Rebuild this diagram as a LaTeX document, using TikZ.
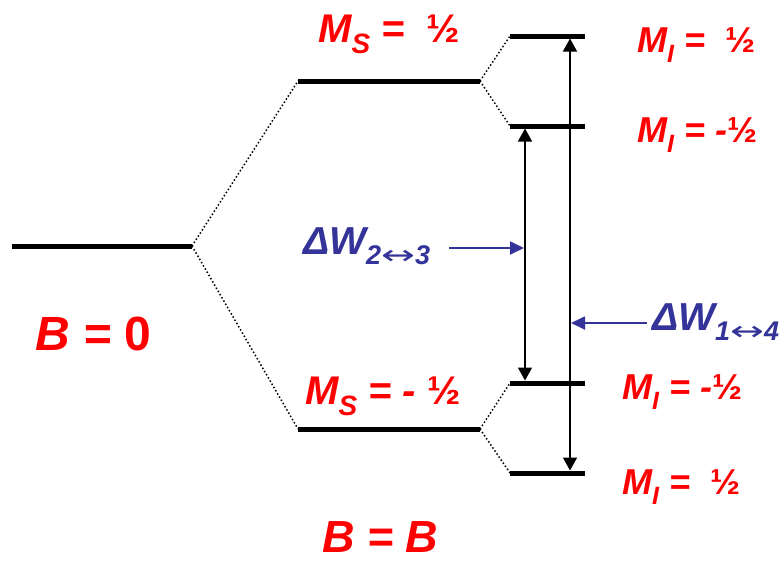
\documentclass[tikz,border=0pt]{standalone}
\usepackage{fontspec}
\setmainfont{Liberation Sans}
\newfontfamily\arrowfont{DejaVu Sans}
\usetikzlibrary{arrows.meta}
\definecolor{lblred}{RGB}{255,0,0}
\definecolor{lblblue}{RGB}{51,51,153}
\newcommand\mysub[2]{\raisebox{-0.28em}{\fontsize{#1}{#1}\selectfont #2}}
\newcommand\myhalf{{\upshape ½}}
\newcommand\myarr{\scalebox{1.5}[1]{\arrowfont\mdseries\upshape ↔}}
\begin{document}
\begin{tikzpicture}[x=1pt,y=-1pt,
  level/.style={line width=5pt},
  dots/.style={line width=1.5pt, dash pattern=on 1.5pt off 2.2pt},
  trans/.style={line width=1.4pt, {Triangle[width=14pt,length=13pt]}-{Triangle[width=14pt,length=13pt]}},
  ptr/.style={lblblue, line width=1.8pt, -{Triangle[width=13pt,length=14pt]}},
  lbl/.style={inner sep=0pt, anchor=base west, text=lblred, font=\bfseries\itshape},
  wlbl/.style={inner sep=0pt, anchor=base west, text=lblblue, font=\bfseries\itshape}]
\useasboundingbox (0,0) rectangle (782,563);
% coordinates
\coordinate (z0) at (12,246);
\coordinate (z1) at (192,246);
\coordinate (u0) at (298,81);
\coordinate (u1) at (480,81);
\coordinate (d0) at (298,429);
\coordinate (d1) at (480,429);
\coordinate (a0) at (510,36);  \coordinate (a1) at (585,36);
\coordinate (b0) at (510,126); \coordinate (b1) at (585,126);
\coordinate (c0) at (510,383); \coordinate (c1) at (585,383);
\coordinate (e0) at (510,473); \coordinate (e1) at (585,473);
% levels
\draw[level] (z0) -- (z1);
\draw[level] (u0) -- (u1);
\draw[level] (d0) -- (d1);
\draw[level] (a0) -- (a1);
\draw[level] (b0) -- (b1);
\draw[level] (c0) -- (c1);
\draw[level] (e0) -- (e1);
% dotted correlations
\draw[dots] (z1) -- (u0);
\draw[dots] (z1) -- (d0);
\draw[dots] (u1) -- (a0);
\draw[dots] (u1) -- (b0);
\draw[dots] (d1) -- (c0);
\draw[dots] (d1) -- (e0);
% transitions
\coordinate (t23a) at (525,128.5);
\coordinate (t23b) at (525,380.5);
\coordinate (t14a) at (570,38.5);
\coordinate (t14b) at (570,470.5);
\draw[trans] (t23a) -- (t23b);
\draw[trans] (t14a) -- (t14b);
% labels
\node[lbl, font=\bfseries\itshape\fontsize{40}{40}\selectfont] (ms1) at (318,42) {M\mysub{28}{S} =\ \ \myhalf};
\node[lbl, font=\bfseries\itshape\fontsize{40}{40}\selectfont] (ms2) at (305,404) {M\mysub{28}{S} = - \myhalf};
\node[lbl, font=\bfseries\itshape\fontsize{36}{36}\selectfont] (mi1) at (637,52) {M\mysub{25}{I} =\ \ \myhalf};
\node[lbl, font=\bfseries\itshape\fontsize{36}{36}\selectfont] (mi2) at (637,142) {M\mysub{25}{I} = -\myhalf};
\node[lbl, font=\bfseries\itshape\fontsize{36}{36}\selectfont] (mi3) at (622,399) {M\mysub{25}{I} = -\myhalf};
\node[lbl, font=\bfseries\itshape\fontsize{36}{36}\selectfont] (mi4) at (622,494) {M\mysub{25}{I} =\ \ \myhalf};
\node[lbl, font=\bfseries\itshape\fontsize{48}{48}\selectfont] (b0lbl) at (35,350) {B = {\upshape 0}};
\node[lbl, font=\bfseries\itshape\fontsize{45}{45}\selectfont] (bblbl) at (322,552) {B = B};
\node[wlbl, font=\bfseries\itshape\fontsize{39}{39}\selectfont] (w23) at (303,254) {ΔW\mysub{27}{2\myarr3}};
\node[wlbl, font=\bfseries\itshape\fontsize{39}{39}\selectfont] (w14) at (652,330) {ΔW\mysub{27}{1\myarr4}};
\coordinate (p23s) at (449,248);
\coordinate (p23e) at (524,248);
\coordinate (p14s) at (647,323);
\coordinate (p14e) at (571,323);
\draw[ptr] (p23s) -- (p23e);
\draw[ptr] (p14s) -- (p14e);
\end{tikzpicture}
\end{document}
